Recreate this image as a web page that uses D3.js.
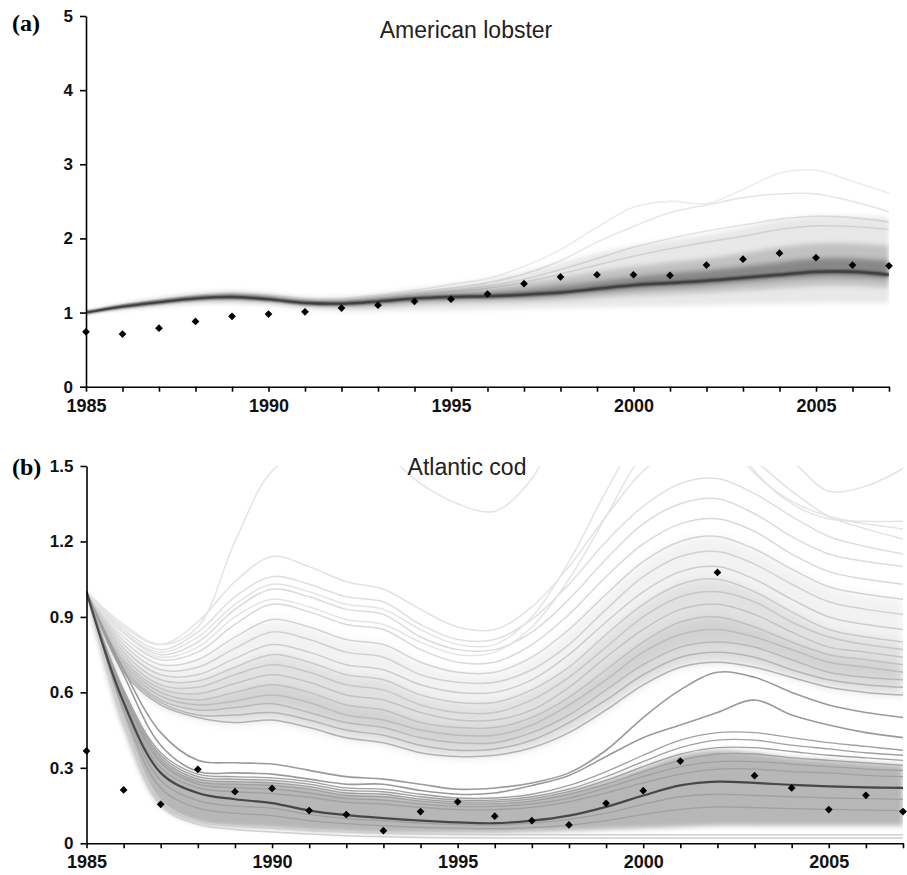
<!DOCTYPE html>
<html>
<head>
<meta charset="utf-8">
<script src="https://cdn.jsdelivr.net/npm/d3@7"></script>
<style>
  body { margin: 0; background: #fff; }
  svg { display: block; font-family: Arial, "Liberation Sans", sans-serif; }
  .axis path, .axis line { stroke: #000; stroke-width: 1.6; }
  .axis text { font-weight: bold; fill: #111; font-family: Arial, "Liberation Sans", sans-serif; }
</style>
</head>
<body>
<div id="chart"></div>
<script>
// ---------- DATA ----------
var years = [1985, 1986, 1987, 1988, 1989, 1990, 1991, 1992, 1993, 1994, 1995, 1996,
             1997, 1998, 1999, 2000, 2001, 2002, 2003, 2004, 2005, 2006, 2007];
var yearLabels = [1985, 1990, 1995, 2000, 2005];
var lobsterTicks = [0, 1, 2, 3, 4, 5];
var codTicks = [0, 0.3, 0.6, 0.9, 1.2, 1.5];

// (a) American lobster
var lobsterObs = [0.74, 0.71, 0.79, 0.88, 0.95, 0.98, 1.01, 1.06, 1.10, 1.15, 1.18, 1.25,
                  1.39, 1.48, 1.51, 1.51, 1.50, 1.64, 1.72, 1.80, 1.74, 1.64, 1.63];
var lobsterMedian = [1.00, 1.08, 1.14, 1.19, 1.21, 1.18, 1.13, 1.12, 1.15, 1.19, 1.21, 1.22,
                     1.24, 1.27, 1.32, 1.37, 1.40, 1.43, 1.47, 1.51, 1.55, 1.55, 1.51];
var lobOuterLo = [1.00, 1.05, 1.09, 1.12, 1.12, 1.10, 1.05, 1.02, 1.02, 1.03, 1.03, 1.04,
                  1.05, 1.06, 1.07, 1.08, 1.09, 1.10, 1.11, 1.12, 1.13, 1.13, 1.13];
var lobOuterHi = [1.00, 1.11, 1.19, 1.26, 1.29, 1.26, 1.21, 1.21, 1.26, 1.32, 1.38, 1.45,
                  1.55, 1.67, 1.80, 1.90, 1.98, 2.05, 2.15, 2.25, 2.30, 2.30, 2.28];
var lobMidLo = [1.00, 1.06, 1.11, 1.15, 1.16, 1.14, 1.09, 1.07, 1.08, 1.11, 1.13, 1.14,
                1.15, 1.17, 1.20, 1.23, 1.25, 1.27, 1.30, 1.33, 1.36, 1.36, 1.33];
var lobMidHi = [1.00, 1.10, 1.17, 1.23, 1.26, 1.23, 1.18, 1.17, 1.21, 1.26, 1.30, 1.34,
                1.40, 1.47, 1.55, 1.62, 1.68, 1.73, 1.80, 1.88, 1.93, 1.93, 1.90];
var lobInnerLo = [1.00, 1.07, 1.13, 1.18, 1.19, 1.17, 1.12, 1.10, 1.12, 1.16, 1.18, 1.19,
                  1.20, 1.23, 1.27, 1.31, 1.34, 1.37, 1.41, 1.45, 1.48, 1.48, 1.45];
var lobInnerHi = [1.00, 1.09, 1.15, 1.21, 1.23, 1.20, 1.15, 1.14, 1.18, 1.22, 1.25, 1.27,
                  1.31, 1.36, 1.42, 1.48, 1.53, 1.57, 1.62, 1.68, 1.73, 1.73, 1.70];
var lobsterRuns = [
  [1.00, 1.10, 1.17, 1.23, 1.26, 1.24, 1.19, 1.19, 1.24, 1.30, 1.38, 1.46, 1.62, 1.85, 2.15, 2.42, 2.50, 2.47, 2.66, 2.88, 2.92, 2.77, 2.61],
  [1.00, 1.10, 1.17, 1.22, 1.25, 1.22, 1.17, 1.17, 1.22, 1.27, 1.33, 1.40, 1.52, 1.70, 1.95, 2.16, 2.35, 2.45, 2.55, 2.60, 2.60, 2.50, 2.36],
  [1.00, 1.09, 1.16, 1.21, 1.24, 1.21, 1.16, 1.16, 1.20, 1.25, 1.30, 1.36, 1.45, 1.58, 1.73, 1.88, 2.00, 2.10, 2.18, 2.26, 2.30, 2.28, 2.22],
  [1.00, 1.09, 1.16, 1.21, 1.23, 1.20, 1.15, 1.15, 1.19, 1.24, 1.28, 1.33, 1.41, 1.52, 1.64, 1.76, 1.86, 1.95, 2.03, 2.12, 2.17, 2.16, 2.12]
];

// (b) Atlantic cod
var codObs = [0.367, 0.212, 0.155, 0.294, 0.205, 0.218, 0.130, 0.114, 0.050, 0.126, 0.165, 0.108,
              0.090, 0.073, 0.159, 0.209, 0.327, 1.077, 0.269, 0.220, 0.134, 0.191, 0.126];
var codMedian = [1.00, 0.56, 0.28, 0.20, 0.175, 0.16, 0.13, 0.112, 0.10, 0.09, 0.083, 0.08,
                 0.09, 0.11, 0.145, 0.19, 0.23, 0.245, 0.24, 0.232, 0.226, 0.222, 0.22];
// upper family of runs, lowest first
var codUpperRuns = [
  [1.00, 0.68, 0.55, 0.50, 0.48, 0.49, 0.46, 0.42, 0.40, 0.36, 0.345, 0.35, 0.38, 0.44, 0.53, 0.63, 0.70, 0.72, 0.70, 0.66, 0.62, 0.60, 0.59],
  [1.00, 0.69, 0.56, 0.51, 0.51, 0.52, 0.49, 0.45, 0.43, 0.39, 0.37, 0.375, 0.41, 0.48, 0.57, 0.67, 0.74, 0.76, 0.74, 0.69, 0.65, 0.63, 0.62],
  [1.00, 0.70, 0.57, 0.53, 0.54, 0.555, 0.52, 0.48, 0.46, 0.42, 0.40, 0.40, 0.44, 0.51, 0.61, 0.71, 0.78, 0.80, 0.78, 0.73, 0.68, 0.66, 0.65],
  [1.00, 0.71, 0.585, 0.55, 0.565, 0.59, 0.56, 0.51, 0.49, 0.45, 0.43, 0.43, 0.47, 0.55, 0.65, 0.76, 0.83, 0.85, 0.82, 0.77, 0.72, 0.70, 0.68],
  [1.00, 0.72, 0.60, 0.57, 0.60, 0.63, 0.60, 0.55, 0.53, 0.48, 0.46, 0.46, 0.50, 0.58, 0.69, 0.80, 0.88, 0.90, 0.86, 0.80, 0.75, 0.73, 0.71],
  [1.00, 0.73, 0.615, 0.595, 0.635, 0.67, 0.64, 0.59, 0.57, 0.52, 0.49, 0.49, 0.53, 0.62, 0.74, 0.85, 0.93, 0.95, 0.91, 0.84, 0.78, 0.76, 0.74],
  [1.00, 0.745, 0.63, 0.62, 0.67, 0.71, 0.68, 0.63, 0.61, 0.55, 0.52, 0.52, 0.57, 0.66, 0.78, 0.90, 0.98, 1.00, 0.96, 0.88, 0.82, 0.79, 0.77],
  [1.00, 0.76, 0.65, 0.645, 0.70, 0.75, 0.72, 0.67, 0.65, 0.59, 0.56, 0.56, 0.61, 0.70, 0.83, 0.95, 1.03, 1.05, 1.00, 0.92, 0.85, 0.82, 0.80],
  [1.00, 0.775, 0.67, 0.67, 0.735, 0.79, 0.76, 0.71, 0.69, 0.63, 0.60, 0.60, 0.65, 0.75, 0.88, 1.00, 1.08, 1.10, 1.05, 0.97, 0.90, 0.87, 0.85],
  [1.00, 0.79, 0.69, 0.70, 0.775, 0.84, 0.81, 0.76, 0.74, 0.67, 0.64, 0.64, 0.69, 0.79, 0.93, 1.06, 1.14, 1.16, 1.11, 1.03, 0.96, 0.93, 0.91],
  [1.00, 0.805, 0.71, 0.73, 0.82, 0.89, 0.86, 0.81, 0.79, 0.72, 0.68, 0.68, 0.74, 0.85, 0.99, 1.12, 1.20, 1.22, 1.17, 1.09, 1.02, 0.99, 0.97],
  [1.00, 0.82, 0.73, 0.76, 0.87, 0.95, 0.92, 0.87, 0.85, 0.77, 0.72, 0.72, 0.79, 0.91, 1.06, 1.19, 1.27, 1.29, 1.24, 1.15, 1.08, 1.05, 1.03],
  [1.00, 0.835, 0.75, 0.80, 0.93, 1.01, 0.98, 0.93, 0.91, 0.82, 0.77, 0.77, 0.84, 0.97, 1.13, 1.27, 1.35, 1.37, 1.31, 1.22, 1.15, 1.12, 1.10],
  [1.00, 0.85, 0.77, 0.84, 0.98, 1.06, 1.03, 0.98, 0.96, 0.87, 0.81, 0.81, 0.89, 1.03, 1.20, 1.34, 1.43, 1.45, 1.39, 1.30, 1.22, 1.18, 1.15],
  [1.00, 0.86, 0.79, 0.88, 1.04, 1.14, 1.10, 1.04, 1.01, 0.93, 0.86, 0.85, 0.94, 1.10, 1.30, 1.48, 1.58, 1.60, 1.52, 1.40, 1.30, 1.25, 1.21]
];
var codOutlierRuns = [
  [1.00, 0.87, 0.79, 0.86, 1.20, 1.48, 1.56, 1.60, 1.55, 1.43, 1.35, 1.32, 1.45, 1.75, 2.00, 2.15, 2.20, 2.10, 1.62, 1.52, 1.40, 1.42, 1.49],
  [1.00, 0.84, 0.76, 0.82, 0.95, 1.03, 1.00, 0.95, 0.93, 0.85, 0.79, 0.79, 0.90, 1.12, 1.40, 1.65, 1.80, 1.70, 1.48, 1.35, 1.29, 1.28, 1.28],
  [1.00, 0.82, 0.74, 0.78, 0.90, 0.97, 0.94, 0.89, 0.87, 0.80, 0.75, 0.76, 0.86, 1.05, 1.30, 1.55, 1.68, 1.64, 1.47, 1.36, 1.30, 1.27, 1.25]
];
var codMidRuns = [
  [1.00, 0.69, 0.44, 0.33, 0.32, 0.315, 0.29, 0.265, 0.255, 0.235, 0.215, 0.22, 0.24, 0.28, 0.37, 0.50, 0.61, 0.68, 0.66, 0.60, 0.55, 0.52, 0.50],
  [1.00, 0.67, 0.39, 0.285, 0.28, 0.275, 0.255, 0.235, 0.235, 0.21, 0.195, 0.20, 0.23, 0.27, 0.345, 0.42, 0.47, 0.52, 0.57, 0.51, 0.47, 0.44, 0.42]
];
var codLowerRuns = [
  [1.00, 0.61, 0.36, 0.275, 0.265, 0.26, 0.245, 0.22, 0.215, 0.195, 0.18, 0.18, 0.195, 0.23, 0.285, 0.35, 0.41, 0.44, 0.44, 0.42, 0.40, 0.385, 0.37],
  [1.00, 0.60, 0.35, 0.265, 0.255, 0.25, 0.235, 0.21, 0.205, 0.185, 0.172, 0.172, 0.185, 0.215, 0.265, 0.325, 0.38, 0.41, 0.41, 0.39, 0.375, 0.36, 0.35],
  [1.00, 0.595, 0.34, 0.255, 0.245, 0.24, 0.225, 0.20, 0.195, 0.176, 0.165, 0.165, 0.177, 0.205, 0.25, 0.305, 0.355, 0.38, 0.38, 0.365, 0.35, 0.34, 0.33],
  [1.00, 0.59, 0.33, 0.245, 0.235, 0.23, 0.215, 0.19, 0.185, 0.168, 0.157, 0.157, 0.168, 0.195, 0.235, 0.285, 0.33, 0.355, 0.355, 0.34, 0.33, 0.32, 0.31],
  [1.00, 0.585, 0.32, 0.235, 0.222, 0.215, 0.20, 0.178, 0.172, 0.157, 0.147, 0.147, 0.157, 0.18, 0.22, 0.265, 0.305, 0.325, 0.325, 0.315, 0.305, 0.295, 0.29],
  [1.00, 0.575, 0.30, 0.22, 0.205, 0.198, 0.183, 0.163, 0.156, 0.143, 0.134, 0.134, 0.143, 0.165, 0.20, 0.24, 0.275, 0.295, 0.295, 0.285, 0.28, 0.27, 0.265],
  [1.00, 0.55, 0.25, 0.17, 0.148, 0.14, 0.115, 0.098, 0.09, 0.08, 0.075, 0.073, 0.08, 0.095, 0.12, 0.155, 0.185, 0.195, 0.19, 0.185, 0.18, 0.178, 0.175],
  [1.00, 0.53, 0.22, 0.14, 0.12, 0.11, 0.09, 0.078, 0.07, 0.063, 0.06, 0.058, 0.062, 0.072, 0.09, 0.115, 0.135, 0.145, 0.142, 0.138, 0.135, 0.132, 0.13]
];
var codBottomRuns = [
  [1.00, 0.50, 0.17, 0.09, 0.07, 0.06, 0.05, 0.045, 0.04, 0.037, 0.035, 0.034, 0.034, 0.034, 0.034, 0.034, 0.034, 0.034, 0.034, 0.034, 0.034, 0.034, 0.034],
  [1.00, 0.48, 0.15, 0.075, 0.055, 0.045, 0.037, 0.03, 0.026, 0.023, 0.022, 0.021, 0.021, 0.021, 0.021, 0.021, 0.021, 0.021, 0.021, 0.021, 0.021, 0.021, 0.021]
];
var codLowBandLo = [1.00, 0.46, 0.15, 0.08, 0.065, 0.06, 0.05, 0.045, 0.04, 0.04, 0.04, 0.04,
                    0.045, 0.05, 0.055, 0.06, 0.065, 0.07, 0.07, 0.07, 0.07, 0.07, 0.07];
var codLowBandHi = [1.00, 0.60, 0.34, 0.26, 0.25, 0.245, 0.225, 0.20, 0.19, 0.175, 0.165, 0.165,
                    0.18, 0.21, 0.25, 0.30, 0.35, 0.37, 0.36, 0.34, 0.33, 0.32, 0.31];

// ---------- SVG ----------
var W = 907, H = 875;
var svg = d3.select("#chart").append("svg")
    .attr("width", W)
    .attr("height", H);

var defs = svg.append("defs");
defs.append("filter").attr("id", "soft").attr("x", "-5%").attr("y", "-20%").attr("width", "110%").attr("height", "140%")
  .append("feGaussianBlur").attr("stdDeviation", 2.5);
defs.append("filter").attr("id", "soft2").attr("x", "-5%").attr("y", "-20%").attr("width", "110%").attr("height", "140%")
  .append("feGaussianBlur").attr("stdDeviation", 1.2);
defs.append("filter").attr("id", "soft3").attr("x", "-5%").attr("y", "-20%").attr("width", "110%").attr("height", "140%")
  .append("feGaussianBlur").attr("stdDeviation", 5);

var smooth = d3.curveCatmullRom.alpha(0.5);

function toPts(vals) {
  return vals.map(function(v, i) { return [years[i], v]; });
}

function drawAxes(g, x, y, ticks, fmt) {
  g.append("g")
    .attr("class", "axis")
    .attr("transform", "translate(0," + y.range()[0] + ")")
    .call(d3.axisBottom(x).tickValues(years).tickSize(5).tickSizeOuter(0)
      .tickFormat(function(d) { return yearLabels.indexOf(d) >= 0 ? d : ""; }))
    .selectAll("text")
      .style("font-size", "18px")
      .attr("dy", "0.95em");

  g.append("g")
    .attr("class", "axis")
    .attr("transform", "translate(" + x.range()[0] + ",0)")
    .call(d3.axisLeft(y).tickValues(ticks).tickSize(6).tickSizeOuter(0).tickPadding(7).tickFormat(fmt))
    .selectAll("text")
      .style("font-size", "17px");
}

// ======== PANEL (a) ========
var xa = d3.scaleLinear().domain([1985, 2007]).range([86, 889]);
var ya = d3.scaleLinear().domain([0, 5]).range([386.7, 16]);
var ga = svg.append("g");

defs.append("clipPath").attr("id", "clipA").append("rect")
  .attr("x", 86).attr("y", 16).attr("width", 889 - 86).attr("height", 386.7 - 16);

var plotA = ga.append("g").attr("clip-path", "url(#clipA)");

var areaA = function(lo, hi) {
  return d3.area()
    .x(function(d, i) { return xa(years[i]); })
    .y0(function(d, i) { return ya(lo[i]); })
    .y1(function(d, i) { return ya(hi[i]); })
    .curve(smooth)(lo);
};
var lineA = d3.line()
  .x(function(d) { return xa(d[0]); })
  .y(function(d) { return ya(d[1]); })
  .curve(smooth);

plotA.selectAll(".lobrun").data(lobsterRuns).enter().append("path")
  .attr("d", function(d) { return lineA(toPts(d)); })
  .attr("fill", "none")
  .attr("stroke", function(d, i) { return i === 0 ? "#ececec" : "#e6e6e6"; })
  .attr("stroke-width", 1.6);

var bandsA = plotA.append("g").attr("filter", "url(#soft)");
bandsA.append("path").attr("d", areaA(lobOuterLo, lobOuterHi)).attr("fill", "#000").attr("fill-opacity", 0.09);
bandsA.append("path").attr("d", areaA(lobMidLo, lobMidHi)).attr("fill", "#000").attr("fill-opacity", 0.17);
bandsA.append("path").attr("d", areaA(lobInnerLo, lobInnerHi)).attr("fill", "#000").attr("fill-opacity", 0.30);

plotA.append("path")
  .attr("d", lineA(toPts(lobsterMedian)))
  .attr("fill", "none")
  .attr("stroke", "#333")
  .attr("stroke-width", 3)
  .attr("filter", "url(#soft2)");
plotA.append("path")
  .attr("d", lineA(toPts(lobsterMedian)))
  .attr("fill", "none")
  .attr("stroke", "#404040")
  .attr("stroke-width", 1.6);

ga.selectAll(".obsA").data(lobsterObs).enter().append("path")
  .attr("d", d3.symbol().type(d3.symbolSquare).size(30))
  .attr("transform", function(d, i) { return "translate(" + xa(years[i]) + "," + ya(d) + ") rotate(45)"; })
  .attr("fill", "#000");

drawAxes(ga, xa, ya, lobsterTicks, d3.format("d"));

ga.append("text").attr("x", 12).attr("y", 31)
  .style("font-family", "'Liberation Serif', 'Times New Roman', serif")
  .style("font-weight", "bold").style("font-size", "24px").text("(a)");
ga.append("text").attr("x", 466).attr("y", 38).attr("text-anchor", "middle")
  .style("font-size", "23px").style("fill", "#222").text("American lobster");

// ======== PANEL (b) ========
var xb = d3.scaleLinear().domain([1985, 2007]).range([86.5, 903]);
var yb = d3.scaleLinear().domain([0, 1.5]).range([843.3, 466]);
var gb = svg.append("g");

defs.append("clipPath").attr("id", "clipB").append("rect")
  .attr("x", 86.5).attr("y", 466).attr("width", 903 - 86.5).attr("height", 843.3 - 466);

var plotB = gb.append("g").attr("clip-path", "url(#clipB)");

var lineB = d3.line()
  .x(function(d) { return xb(d[0]); })
  .y(function(d) { return yb(d[1]); })
  .curve(smooth);
var areaB = function(lo, hi) {
  return d3.area()
    .x(function(d, i) { return xb(years[i]); })
    .y0(function(d, i) { return yb(lo[i]); })
    .y1(function(d, i) { return yb(hi[i]); })
    .curve(smooth)(lo);
};

// soft shading behind the upper family, darker near its lower edge
var upFill = plotB.append("g").attr("filter", "url(#soft3)");
upFill.append("path")
  .attr("d", areaB(codUpperRuns[2], codUpperRuns[10]))
  .attr("fill", "#000").attr("fill-opacity", 0.05);
upFill.append("path")
  .attr("d", areaB(codUpperRuns[0], codUpperRuns[7]))
  .attr("fill", "#000").attr("fill-opacity", 0.07);
upFill.append("path")
  .attr("d", areaB(codUpperRuns[0], codUpperRuns[4]))
  .attr("fill", "#000").attr("fill-opacity", 0.07);

var upperShade = d3.scaleLinear().domain([0, codUpperRuns.length - 1]).range(["#b2b2b2", "#e2e2e2"]);
plotB.selectAll(".uprun").data(codUpperRuns).enter().append("path")
  .attr("d", function(d) { return lineB(toPts(d)); })
  .attr("fill", "none")
  .attr("stroke", function(d, i) { return upperShade(i); })
  .attr("stroke-width", 1.5);

plotB.selectAll(".outrun").data(codOutlierRuns).enter().append("path")
  .attr("d", function(d) { return lineB(toPts(d)); })
  .attr("fill", "none")
  .attr("stroke", "#e4e4e4")
  .attr("stroke-width", 1.5);

plotB.selectAll(".midrun").data(codMidRuns).enter().append("path")
  .attr("d", function(d) { return lineB(toPts(d)); })
  .attr("fill", "none")
  .attr("stroke", "#9a9a9a")
  .attr("stroke-width", 1.6);

plotB.append("path")
  .attr("d", areaB(codLowBandLo, codLowBandHi))
  .attr("fill", "#b7b7b7")
  .attr("filter", "url(#soft)");

plotB.selectAll(".lowrun").data(codLowerRuns).enter().append("path")
  .attr("d", function(d) { return lineB(toPts(d)); })
  .attr("fill", "none")
  .attr("stroke", "#a0a0a0")
  .attr("stroke-width", 1.3);

plotB.selectAll(".botrun").data(codBottomRuns).enter().append("path")
  .attr("d", function(d) { return lineB(toPts(d)); })
  .attr("fill", "none")
  .attr("stroke", "#cfcfcf")
  .attr("stroke-width", 1.4);

plotB.append("path")
  .attr("d", lineB(toPts(codMedian)))
  .attr("fill", "none")
  .attr("stroke", "#474747")
  .attr("stroke-width", 2.2);

gb.selectAll(".obsB").data(codObs).enter().append("path")
  .attr("d", d3.symbol().type(d3.symbolSquare).size(30))
  .attr("transform", function(d, i) { return "translate(" + xb(years[i]) + "," + yb(d) + ") rotate(45)"; })
  .attr("fill", "#000");

drawAxes(gb, xb, yb, codTicks, function(d) { return d === 0 ? "0" : d3.format(".1f")(d); });

gb.append("text").attr("x", 12).attr("y", 475)
  .style("font-family", "'Liberation Serif', 'Times New Roman', serif")
  .style("font-weight", "bold").style("font-size", "24px").text("(b)");
gb.append("text").attr("x", 467).attr("y", 475).attr("text-anchor", "middle")
  .style("font-size", "23px").style("fill", "#222").text("Atlantic cod");
</script>
</body>
</html>
